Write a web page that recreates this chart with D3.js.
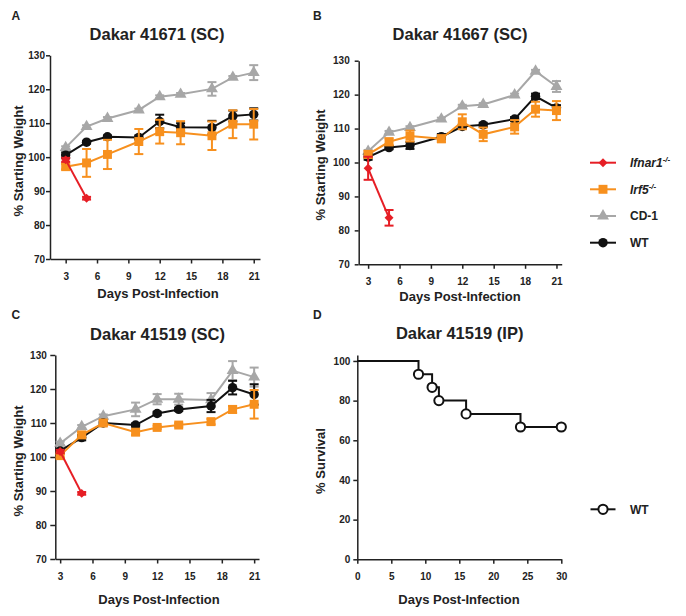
<!DOCTYPE html>
<html>
<head>
<meta charset="utf-8">
<script src="https://cdn.jsdelivr.net/npm/d3@7"></script>
<style>
  html, body { margin: 0; padding: 0; background: #fff; }
  svg { display: block; }
  text { font-family: "Liberation Sans", Arial, Helvetica, sans-serif; fill: #222; }
</style>
</head>
<body>
<svg id="chart" width="686" height="616"></svg>
<script>
// ---------------- DATA ----------------
const days = [3, 5, 7, 10, 12, 14, 17, 19, 21];
const ifnarDays = [3, 5];
const weightTicks = [70, 80, 90, 100, 110, 120, 130];
const dayTicks = [3, 6, 9, 12, 15, 18, 21];

// Panel A: Dakar 41671 (SC)
const A_ifnar1 = [99.2, 87.9];
const A_ifnar1Err = [0.6, 0.4];
const A_irf5 = [97.2, 98.3, 100.8, 104.6, 107.5, 107.2, 106.3, 109.7, 109.7];
const A_irf5Err = [0.8, 4.1, 4.3, 3.7, 3.5, 3.4, 4.2, 4.1, 4.5];
const A_cd1 = [102.8, 109.0, 111.4, 113.9, 117.8, 118.5, 120.1, 123.5, 124.9];
const A_cd1Err = [0.4, 0.4, 0.4, 0.4, 0.4, 0.4, 2.0, 0.4, 2.2];
const A_wt = [100.6, 104.4, 106.0, 105.8, 110.5, 108.8, 108.7, 112.1, 112.6];
const A_wtErr = [0.8, 0.4, 0.4, 0.6, 2.0, 1.2, 2.0, 1.6, 1.8];

// Panel B: Dakar 41667 (SC)
const B_ifnar1 = [98.3, 83.7];
const B_ifnar1Err = [3.4, 2.3];
const B_irf5 = [102.4, 106.1, 107.8, 107.0, 112.0, 108.3, 110.5, 115.7, 115.3];
const B_irf5Err = [1.0, 1.0, 1.6, 1.0, 2.2, 2.0, 2.0, 2.2, 2.8];
const B_cd1 = [103.3, 108.9, 110.3, 112.8, 116.6, 117.1, 119.9, 126.9, 122.4];
const B_cd1Err = [0.4, 0.4, 0.4, 0.4, 0.4, 0.4, 0.4, 0.4, 1.6];
const B_wt = [101.6, 104.4, 105.0, 107.6, 110.6, 111.1, 112.8, 119.5, 116.1];
const B_wtErr = [0.8, 0.5, 1.0, 0.8, 0.6, 0.6, 0.6, 0.8, 0.8];

// Panel C: Dakar 41519 (SC)
const C_ifnar1 = [101.6, 89.3];
const C_ifnar1Err = [0.5, 0.4];
const C_irf5 = [100.4, 106.5, 110.0, 107.3, 108.7, 109.4, 110.4, 114.0, 115.5];
const C_irf5Err = [0.5, 0.8, 0.8, 0.8, 0.5, 0.5, 0.8, 1.0, 4.2];
const C_cd1 = [104.0, 108.9, 112.0, 114.0, 117.0, 117.0, 116.8, 125.4, 123.5];
const C_cd1Err = [0.5, 0.5, 0.5, 2.0, 1.5, 1.6, 2.0, 2.8, 2.8];
const C_wt = [101.8, 105.7, 110.0, 109.4, 112.8, 114.0, 115.0, 120.4, 118.4];
const C_wtErr = [0.5, 0.8, 0.5, 0.5, 0.5, 0.5, 1.8, 2.0, 3.0];

// Panel D: Dakar 41519 (IP) survival, WT
const survDays = [0, 9, 11, 12, 16, 24, 30];
const survPct = [100, 93.3, 86.7, 80, 73.3, 66.7, 66.7];
const survMarkDays = [9, 11, 12, 16, 24, 30];
const survMarkPct = [93.3, 86.7, 80, 73.3, 66.7, 66.7];
const survXTicks = [0, 5, 10, 15, 20, 25, 30];
const survYTicks = [0, 20, 40, 60, 80, 100];

const seriesNames = ["Ifnar1", "Irf5", "CD-1", "WT"];

// ---------------- STYLE ----------------
const RED = "#e61e25", ORANGE = "#f7901e", GRAY = "#a7a7a7", BLACK = "#111";
const FONT = '"Liberation Sans", Arial, Helvetica, sans-serif';

const svg = d3.select("#chart");

function markerPath(kind) {
  if (kind === "circle") return d3.symbol().type(d3.symbolCircle).size(70)();
  if (kind === "square") return d3.symbol().type(d3.symbolSquare).size(80)();
  if (kind === "triangle") return d3.symbol().type(d3.symbolTriangle).size(62)();
  if (kind === "diamond") return d3.symbol().type(d3.symbolSquare).size(40)();
  return "";
}

function drawSeries(g, x, y, xs, ys, errs, color, kind) {
  const pts = xs.map((d, i) => ({ d, v: ys[i], e: errs[i] }));
  const sg = g.append("g");
  // line
  sg.append("path").datum(pts)
    .attr("fill", "none").attr("stroke", color).attr("stroke-width", 2)
    .attr("d", d3.line().x(p => x(p.d)).y(p => y(p.v)));
  // error bars
  const eb = sg.selectAll(".eb").data(pts).enter().append("g");
  eb.append("line")
    .attr("x1", p => x(p.d)).attr("x2", p => x(p.d))
    .attr("y1", p => y(p.v - p.e)).attr("y2", p => y(p.v + p.e))
    .attr("stroke", color).attr("stroke-width", 2);
  [1, -1].forEach(s => {
    eb.append("line")
      .attr("x1", p => x(p.d) - 4.5).attr("x2", p => x(p.d) + 4.5)
      .attr("y1", p => y(p.v + s * p.e)).attr("y2", p => y(p.v + s * p.e))
      .attr("stroke", color).attr("stroke-width", 2);
  });
  // markers
  sg.selectAll(".mk").data(pts).enter().append("path")
    .attr("d", markerPath(kind))
    .attr("transform", p => `translate(${x(p.d)},${y(p.v)})` + (kind === "diamond" ? " rotate(45)" : ""))
    .attr("fill", color);
}

function styleAxis(ax) {
  ax.select(".domain").attr("stroke", "#222").attr("stroke-width", 1.5);
  ax.selectAll(".tick line").attr("stroke", "#222").attr("stroke-width", 1.5);
  ax.selectAll(".tick text").attr("font-family", FONT).attr("font-weight", "bold")
    .attr("font-size", 10).attr("fill", "#222");
}

function drawWeightPanel(cfg) {
  const g = svg.append("g");
  const x = d3.scaleLinear().domain(cfg.xDom).range(cfg.xRange);
  const y = d3.scaleLinear().domain([70, 130]).range(cfg.yRange);

  const xa = g.append("g").attr("transform", `translate(0,${cfg.yRange[0]})`)
    .call(d3.axisBottom(x).tickValues(dayTicks).tickSize(4.5).tickSizeOuter(0).tickPadding(9));
  styleAxis(xa);
  const ya = g.append("g").attr("transform", `translate(${cfg.xRange[0]},0)`)
    .call(d3.axisLeft(y).tickValues(weightTicks).tickSize(cfg.yTick).tickSizeOuter(0).tickPadding(cfg.yPad));
  styleAxis(ya);

  // series order: bottom to top
  drawSeries(g, x, y, days, cfg.cd1, cfg.cd1Err, GRAY, "triangle");
  drawSeries(g, x, y, days, cfg.wt, cfg.wtErr, BLACK, "circle");
  drawSeries(g, x, y, days, cfg.irf5, cfg.irf5Err, ORANGE, "square");
  drawSeries(g, x, y, ifnarDays, cfg.ifnar1, cfg.ifnar1Err, RED, "diamond");

  // texts
  g.append("text").attr("x", cfg.letter[0]).attr("y", cfg.letter[1])
    .attr("font-size", 12).attr("font-weight", "bold").text(cfg.letterText);
  g.append("text").attr("x", cfg.title[0]).attr("y", cfg.title[1]).attr("text-anchor", "middle")
    .attr("font-size", 16.5).attr("font-weight", "bold").text(cfg.titleText);
  g.append("text").attr("x", cfg.xlab[0]).attr("y", cfg.xlab[1]).attr("text-anchor", "middle")
    .attr("font-size", 13).attr("font-weight", "bold").text("Days Post-Infection");
  g.append("text").attr("transform", `translate(${cfg.ylab[0]},${cfg.ylab[1]}) rotate(-90)`)
    .attr("text-anchor", "middle").attr("font-size", 13).attr("font-weight", "bold")
    .text("% Starting Weight");
}

drawWeightPanel({
  xDom: [1.5, 21.6], xRange: [50, 260], yRange: [259, 55.3], yTick: 4, yPad: 1,
  ifnar1: A_ifnar1, ifnar1Err: A_ifnar1Err, irf5: A_irf5, irf5Err: A_irf5Err,
  cd1: A_cd1, cd1Err: A_cd1Err, wt: A_wt, wtErr: A_wtErr,
  letter: [11.5, 19.5], letterText: "A",
  title: [157, 39.5], titleText: "Dakar 41671 (SC)",
  xlab: [158, 297.5], ylab: [22.5, 161]
});
drawWeightPanel({
  xDom: [2.1, 21.5], xRange: [358.7, 561.7], yRange: [264.3, 60.7], yTick: 4, yPad: 5,
  ifnar1: B_ifnar1, ifnar1Err: B_ifnar1Err, irf5: B_irf5, irf5Err: B_irf5Err,
  cd1: B_cd1, cd1Err: B_cd1Err, wt: B_wt, wtErr: B_wtErr,
  letter: [313, 19.5], letterText: "B",
  title: [460, 40], titleText: "Dakar 41667 (SC)",
  xlab: [460, 300.5], ylab: [325, 165]
});
drawWeightPanel({
  xDom: [2.55, 21.45], xRange: [55.3, 259], yRange: [559, 355], yTick: 5, yPad: 3.5,
  ifnar1: C_ifnar1, ifnar1Err: C_ifnar1Err, irf5: C_irf5, irf5Err: C_irf5Err,
  cd1: C_cd1, cd1Err: C_cd1Err, wt: C_wt, wtErr: C_wtErr,
  letter: [11.5, 318.5], letterText: "C",
  title: [157.5, 339.5], titleText: "Dakar 41519 (SC)",
  xlab: [159, 603.5], ylab: [22.5, 461]
});

// ---------------- Panel D: survival ----------------
(function () {
  const g = svg.append("g");
  const x = d3.scaleLinear().domain([0, 30]).range([357.3, 561.3]);
  const y = d3.scaleLinear().domain([0, 103]).range([559.3, 355]);
  const xa = g.append("g").attr("transform", "translate(0,559.3)")
    .call(d3.axisBottom(x).tickValues(survXTicks).tickSize(4.5).tickSizeOuter(0).tickPadding(9));
  styleAxis(xa);
  const ya = g.append("g").attr("transform", "translate(357.3,0)")
    .call(d3.axisLeft(y).tickValues(survYTicks).tickSize(4).tickSizeOuter(0).tickPadding(3));
  styleAxis(ya);

  const pts = survDays.map((d, i) => ({ d, v: survPct[i] }));
  g.append("path").datum(pts).attr("fill", "none").attr("stroke", BLACK).attr("stroke-width", 2)
    .attr("d", d3.line().curve(d3.curveStepAfter).x(p => x(p.d)).y(p => y(p.v)));
  const mk = survMarkDays.map((d, i) => ({ d, v: survMarkPct[i] }));
  g.selectAll(".sm").data(mk).enter().append("circle")
    .attr("cx", p => x(p.d)).attr("cy", p => y(p.v)).attr("r", 4.6)
    .attr("fill", "#fff").attr("stroke", BLACK).attr("stroke-width", 2);

  g.append("text").attr("x", 313).attr("y", 318.5).attr("font-size", 12).attr("font-weight", "bold").text("D");
  g.append("text").attr("x", 459.7).attr("y", 338.5).attr("text-anchor", "middle")
    .attr("font-size", 16.5).attr("font-weight", "bold").text("Dakar 41519 (IP)");
  g.append("text").attr("x", 459).attr("y", 603.5).attr("text-anchor", "middle")
    .attr("font-size", 13).attr("font-weight", "bold").text("Days Post-Infection");
  g.append("text").attr("transform", "translate(325,461) rotate(-90)")
    .attr("text-anchor", "middle").attr("font-size", 13).attr("font-weight", "bold").text("% Survival");

  // legend D
  const lg = svg.append("g");
  lg.append("line").attr("x1", 590.5).attr("x2", 615.5).attr("y1", 509.3).attr("y2", 509.3)
    .attr("stroke", BLACK).attr("stroke-width", 2);
  lg.append("circle").attr("cx", 603).attr("cy", 509.3).attr("r", 4.6)
    .attr("fill", "#fff").attr("stroke", BLACK).attr("stroke-width", 2);
  lg.append("text").attr("x", 630).attr("y", 513.5).attr("font-size", 12).attr("font-weight", "bold").text("WT");
})();

// ---------------- Legend (weight panels) ----------------
(function () {
  const colors = [RED, ORANGE, GRAY, BLACK];
  const kinds = ["diamond", "square", "triangle", "circle"];
  const italic = [true, true, false, false];
  const sup = ["-/-", "-/-", "", ""];
  const rowY = [162.7, 189.3, 216, 242.7];
  const lg = svg.append("g");
  seriesNames.forEach((name, i) => {
    const cy = rowY[i];
    lg.append("line").attr("x1", 590).attr("x2", 616).attr("y1", cy).attr("y2", cy)
      .attr("stroke", colors[i]).attr("stroke-width", 2);
    lg.append("path").attr("d", markerPath(kinds[i]))
      .attr("transform", `translate(603,${cy})` + (kinds[i] === "diamond" ? " rotate(45)" : ""))
      .attr("fill", colors[i]);
    const t = lg.append("text").attr("x", 630).attr("y", cy + 4.3)
      .attr("font-size", 12).attr("font-weight", "bold")
      .attr("font-style", italic[i] ? "italic" : "normal");
    t.append("tspan").text(name);
    if (sup[i]) t.append("tspan").attr("font-size", 8).attr("dy", -5).text(sup[i]);
  });
})();
</script>
</body>
</html>
